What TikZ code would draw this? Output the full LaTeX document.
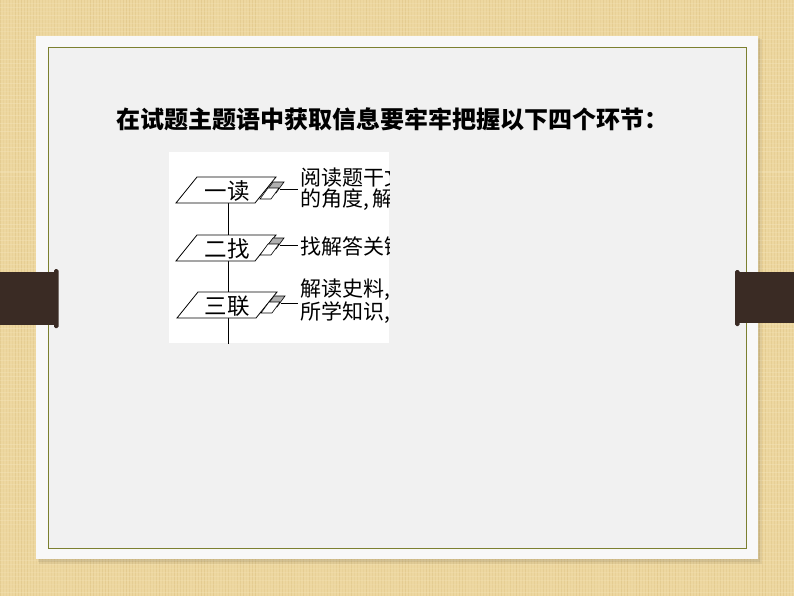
\documentclass[tikz,border=0pt]{standalone}
\usepackage{fontspec}
\newfontfamily\cjk{Noto Sans CJK SC}
\definecolor{tanbg}{HTML}{EDD7A0}
\definecolor{tandark}{HTML}{D9BD7C}
\definecolor{tanlight}{HTML}{F5E6BE}
\definecolor{brownbar}{HTML}{3A2B24}
\definecolor{olivebd}{HTML}{7C8030}
\definecolor{panelout}{HTML}{F8F8F8}
\definecolor{panelin}{HTML}{F1F1F1}
\definecolor{tabgray}{HTML}{B0B0B0}
\tikzset{
  pbox/.style={draw=black, fill=white, line width=0.8pt},
  tabback/.style={draw=black, fill=tabgray, line width=0.6pt},
  tabfront/.style={draw=black, fill=white, line width=0.6pt},
  conn/.style={draw=black, line width=0.8pt},
  lbl/.style={inner sep=0pt, font=\cjk\fontsize{22.5pt}{25pt}\selectfont},
  desc/.style={inner sep=0pt, anchor=west, font=\cjk\fontsize{21pt}{24pt}\selectfont},
  ttl/.style={inner sep=0pt, anchor=west, font=\cjk\bfseries\fontsize{24pt}{28pt}\selectfont}
}
\begin{document}
\begin{tikzpicture}[x=1pt,y=-1pt]
\useasboundingbox (0,0) rectangle (794,596);
% textured background
\fill[tanbg] (0,0) rectangle (794,596);
\pgfmathsetseed{7}
\foreach \i in {0,3,...,794}{
  \pgfmathsetmacro{\op}{0.15+0.3*rnd}
  \draw[tandark, line width=1pt, opacity=\op] (\i,0) -- (\i,596);
}
\foreach \j in {0,4,...,596}{
  \pgfmathsetmacro{\op}{0.15+0.3*rnd}
  \draw[tanlight, line width=1pt, opacity=\op] (0,\j) -- (794,\j);
}
% panel shadow
\fill[black, opacity=0.06] (39,39) rectangle (762,564);
\fill[black, opacity=0.06] (38,38) rectangle (760,562);
% outer panel
\fill[panelout] (36,36) rectangle (758,559);
% inner panel with olive border
\filldraw[fill=panelin, draw=olivebd, line width=0.9pt] (48,47) rectangle (746,548);
% side bars
\fill[brownbar] (0,272) rectangle (56,325);
\fill[brownbar, rounded corners=1.5pt] (54,269) rectangle (58.5,328);
\fill[brownbar] (737,272) rectangle (794,323);
\fill[brownbar, rounded corners=1.5pt] (735,270) rectangle (739.5,326);
% title
\node[ttl] (title) at (116,119) {在试题主题语中获取信息要牢牢把握以下四个环节：};
% flowchart picture
\fill[white] (169,152) rectangle (389,343);
\begin{scope}
\clip (169,152) rectangle (389,343);
\coordinate (vtop) at (228,203);
\coordinate (vbot) at (228,344);
\draw[conn] (vtop) -- (vbot);
% stage 1
\filldraw[pbox] (197,177) -- (276,177) -- (255,203) -- (176,203) -- cycle;
\node[lbl] (s1) at (227,191) {一读};
\filldraw[tabback] (273,182) -- (284,182) -- (276,193) -- (265,193) -- cycle;
\filldraw[tabfront] (268,188) -- (279,188) -- (271,199) -- (260,199) -- cycle;
\coordinate (t1) at (280,189);
\coordinate (e1) at (298,189);
\draw[conn] (t1) -- (e1);
\node[desc] (d1a) at (300,177) {阅读题干文};
\node[desc] (d1b) at (300,200) {的角度,\,解};
% stage 2
\filldraw[pbox] (197,235) -- (276,235) -- (255,261) -- (176,261) -- cycle;
\node[lbl] (s2) at (227,249) {二找};
\filldraw[tabback] (273,238) -- (284,238) -- (276,249) -- (265,249) -- cycle;
\filldraw[tabfront] (268,244) -- (279,244) -- (271,255) -- (260,255) -- cycle;
\coordinate (t2) at (280,245);
\coordinate (e2) at (298,245);
\draw[conn] (t2) -- (e2);
\node[desc] (d2) at (300,247) {找解答关键};
% stage 3
\filldraw[pbox] (198,292) -- (277,292) -- (256,318) -- (177,318) -- cycle;
\node[lbl] (s3) at (227,306) {三联};
\filldraw[tabback] (274,296) -- (285,296) -- (277,307) -- (266,307) -- cycle;
\filldraw[tabfront] (269,302) -- (280,302) -- (272,313) -- (261,313) -- cycle;
\coordinate (t3) at (281,303);
\coordinate (e3) at (298,303);
\draw[conn] (t3) -- (e3);
\node[desc] (d3a) at (300,290) {解读史料,};
\node[desc] (d3b) at (300,313) {所学知识,};
\end{scope}
\end{tikzpicture}
\end{document}
